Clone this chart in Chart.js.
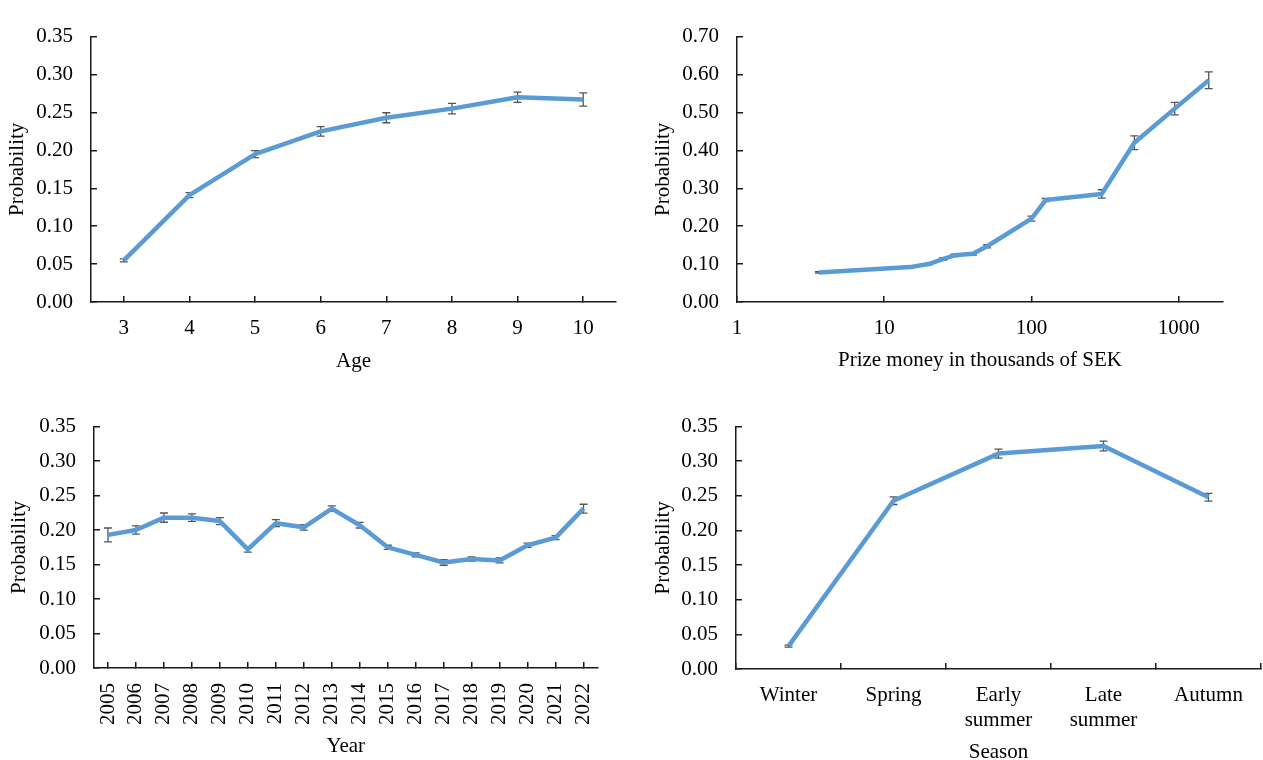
<!DOCTYPE html>
<html><head><meta charset="utf-8">
<script src="https://cdn.jsdelivr.net/npm/chart.js@4.4.1/dist/chart.umd.min.js"></script>
<style>
html,body{margin:0;padding:0;background:#fff;overflow:hidden;width:1263px;height:760px}
.p{position:absolute}
</style></head><body>
<div class="p" style="left:0;top:0;width:630px;height:380px"><canvas id="c1"></canvas></div>
<div class="p" style="left:640px;top:0;width:623px;height:380px"><canvas id="c2"></canvas></div>
<div class="p" style="left:0;top:390px;width:630px;height:370px"><canvas id="c3"></canvas></div>
<div class="p" style="left:640px;top:390px;width:623px;height:378px"><canvas id="c4"></canvas></div>
<script>
// ---- data ----
const ageLabels = ['3','4','5','6','7','8','9','10'];
const ageProb = [0.055, 0.141, 0.195, 0.225, 0.243, 0.255, 0.270, 0.267];
const ageErr = [0.002, 0.0033, 0.0045, 0.0062, 0.0066, 0.007, 0.0068, 0.0087];

const prizeK = [3.6, 15, 20, 25, 30, 40, 50, 100, 125, 300, 500, 940, 1600];
const prizeProb = [0.078, 0.092, 0.100, 0.113, 0.123, 0.127, 0.147, 0.220, 0.269, 0.285, 0.420, 0.510, 0.585];
const prizeErr = [0.002, 0.002, 0.002, 0.003, 0.003, 0.003, 0.004, 0.0066, 0.004, 0.011, 0.018, 0.0165, 0.022];
const prizeTicks = [1, 10, 100, 1000];

const yearLabels = ['2005','2006','2007','2008','2009','2010','2011','2012','2013','2014','2015','2016','2017','2018','2019','2020','2021','2022'];
const yearProb = [0.193, 0.200, 0.218, 0.218, 0.213, 0.172, 0.210, 0.204, 0.231, 0.207, 0.175, 0.164, 0.153, 0.158, 0.156, 0.178, 0.189, 0.231];
const yearErr = [0.010, 0.006, 0.0067, 0.0055, 0.005, 0.004, 0.005, 0.004, 0.004, 0.004, 0.003, 0.003, 0.004, 0.003, 0.0035, 0.003, 0.003, 0.0064];

const seasonLabels = ['Winter', 'Spring', ['Early', 'summer'], ['Late', 'summer'], 'Autumn'];
const seasonProb = [0.033, 0.243, 0.311, 0.322, 0.248];
const seasonErr = [0.0015, 0.0055, 0.0065, 0.007, 0.0055];

// ---- styling ----
const LINE = '#5B9BD5';
const AXIS = '#1a1a1a';
const ERR = '#555555';
Chart.defaults.font.family = "'Liberation Serif','Times New Roman',serif";
Chart.defaults.font.size = 21;
Chart.defaults.color = '#000';

const errorBarPlugin = {
  id: 'errorBars',
  beforeDatasetsDraw(chart, args, opts) {
    const errs = opts.errors;
    if (!errs) return;
    const meta = chart.getDatasetMeta(0);
    const ys = chart.scales.y;
    const vals = chart.data.datasets[0].data;
    const ctx = chart.ctx;
    ctx.save();
    ctx.strokeStyle = ERR;
    ctx.lineWidth = 1.3;
    meta.data.forEach((pt, i) => {
      const v = (typeof vals[i] === 'object') ? vals[i].y : vals[i];
      const e = errs[i];
      const y1 = ys.getPixelForValue(v + e), y2 = ys.getPixelForValue(v - e);
      const x = pt.x, w = 4;
      ctx.beginPath();
      ctx.moveTo(x, y1); ctx.lineTo(x, y2);
      ctx.moveTo(x - w, y1); ctx.lineTo(x + w, y1);
      ctx.moveTo(x - w, y2); ctx.lineTo(x + w, y2);
      ctx.stroke();
    });
    ctx.restore();
  }
};
Chart.register(errorBarPlugin);

function yScale(max, step, width, titlePad) {
  return {
    min: 0, max: max,
    afterFit: s => { s.width = width; },
    border: { display: true, color: AXIS, width: 1.5 },
    grid: { drawOnChartArea: false, drawTicks: true, tickLength: -6, color: AXIS, lineWidth: 1.5 },
    ticks: { stepSize: step, padding: 24, color: '#000', font: { size: 21 }, callback: v => Number(v).toFixed(2) },
    title: { display: true, text: 'Probability', color: '#000', font: { size: 21 }, padding: { top: titlePad, bottom: 0 } }
  };
}
function catScale(height, title, titlePadBottom, gridOffset, rot, pad) {
  return {
    type: 'category', offset: true,
    afterFit: s => { s.height = height; },
    border: { display: true, color: AXIS, width: 1.5 },
    grid: { offset: gridOffset, drawOnChartArea: false, drawTicks: true, tickLength: -6, color: AXIS, lineWidth: 1.5 },
    ticks: { padding: pad, autoSkip: false, minRotation: rot, maxRotation: rot, color: '#000', font: { size: 21 } },
    title: { display: true, text: title, color: '#000', font: { size: 21 }, padding: { top: 0, bottom: titlePadBottom } }
  };
}
function ds(data) {
  return [{ data: data, borderColor: LINE, backgroundColor: LINE, borderWidth: 4.5, pointRadius: 0, tension: 0, fill: false, borderJoinStyle: 'round', borderCapStyle: 'butt' }];
}
function baseOpts(padding, scales, errors) {
  return {
    responsive: true, maintainAspectRatio: false, animation: false,
    layout: { padding: padding },
    plugins: { legend: { display: false }, tooltip: { enabled: false }, errorBars: { errors: errors } },
    scales: scales
  };
}

// Panel 1: Age
new Chart(document.getElementById('c1'), {
  type: 'line',
  data: { labels: ageLabels, datasets: ds(ageProb) },
  options: baseOpts({ top: 20, right: 14, left: 0, bottom: 0 },
    { x: catScale(78, 'Age', 6, false, 0, 20), y: yScale(0.35, 0.05, 91, 5) }, ageErr)
});

// Panel 2: Prize money (log)
new Chart(document.getElementById('c2'), {
  type: 'line',
  data: { datasets: ds(prizeK.map((k, i) => ({ x: k, y: prizeProb[i] }))) },
  options: baseOpts({ top: 20, right: 40, left: 0, bottom: 0 }, {
    x: {
      type: 'logarithmic', min: 1, max: 2000,
      afterFit: s => { s.height = 78; },
      afterBuildTicks: s => { s.ticks = prizeTicks.map(v => ({ value: v })); },
      border: { display: true, color: AXIS, width: 1.5 },
      grid: { drawOnChartArea: false, drawTicks: true, tickLength: -6, color: AXIS, lineWidth: 1.5 },
      ticks: { padding: 20, autoSkip: false, maxRotation: 0, color: '#000', font: { size: 21 }, callback: v => String(v) },
      title: { display: true, text: 'Prize money in thousands of SEK', color: '#000', font: { size: 21 }, padding: { top: 0, bottom: 7 } }
    },
    y: yScale(0.70, 0.10, 97, 11)
  }, prizeErr)
});

// Panel 3: Year
new Chart(document.getElementById('c3'), {
  type: 'line',
  data: { labels: yearLabels, datasets: ds(yearProb) },
  options: baseOpts({ top: 15, right: 10, left: 0, bottom: 0 },
    { x: catScale(92, 'Year', 1, false, 90, 21), y: yScale(0.35, 0.05, 94, 7) }, yearErr)
});

// Panel 4: Season
new Chart(document.getElementById('c4'), {
  type: 'line',
  data: { labels: seasonLabels, datasets: ds(seasonProb) },
  options: baseOpts({ top: 22, right: 1, left: 0, bottom: 0 },
    { x: catScale(99, 'Season', 3, true, 0, 20), y: yScale(0.35, 0.05, 96, 11) }, seasonErr)
});
</script>
</body></html>
